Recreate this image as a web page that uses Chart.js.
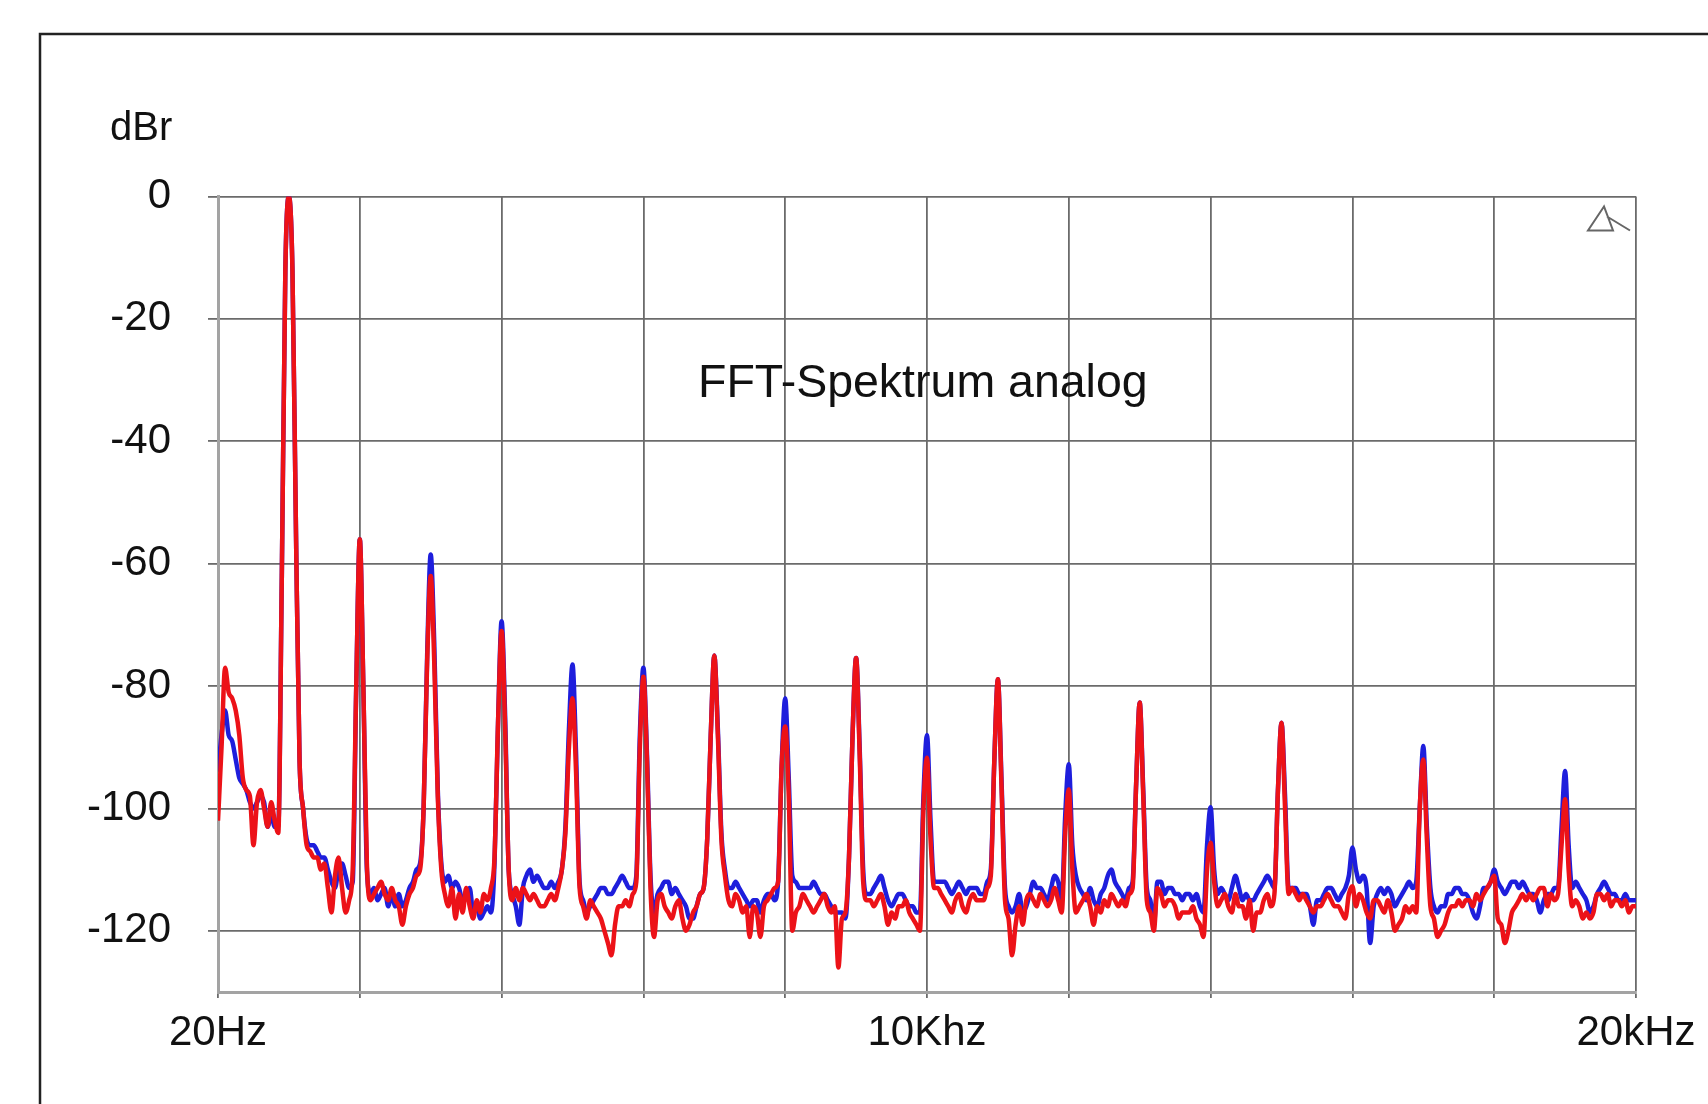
<!DOCTYPE html>
<html>
<head>
<meta charset="utf-8">
<title>FFT-Spektrum analog</title>
<script src="https://cdn.jsdelivr.net/npm/chart.js@4"></script>
<style>
  html, body { margin: 0; padding: 0; background: #fff; }
  #wrap { width: 1708px; height: 1104px; }
</style>
</head>
<body>
<div id="wrap"><canvas id="fft"></canvas></div>
<script>
// FFT bins are 50 Hz apart, one row per kHz (0 Hz ... 20 kHz)
const BIN_HZ = 50;

// red trace, dBr
const redLevels = [
  -102, -90, -77, -81, -82, -84, -88, -95, -97, -98, -106, -99, -97, -100, -103, -99, -102, -104, -62, -12,
  0, -12, -55, -92, -100, -106, -107, -108, -108, -110, -109, -113, -117, -111, -108, -113, -117, -115, -110, -80,
  -56, -80, -109, -115, -114, -113, -112, -114, -115, -113, -115, -116, -119, -116, -114, -113, -111, -110, -100, -76,
  -62, -76, -98, -110, -114, -116, -113, -118, -114, -117, -113, -116, -118, -115, -117, -114, -115, -113, -108, -86,
  -71, -87, -110, -115, -113, -115, -113, -114, -115, -114, -115, -116, -116, -115, -114, -115, -113, -110, -104, -90,
  -82, -94, -113, -116, -118, -115, -116, -117, -118, -120, -122, -124, -119, -116, -116, -115, -116, -114, -112, -90,
  -78.5, -92, -113, -121, -115, -114, -116, -117, -118, -116, -115, -118, -120, -119, -117, -116, -114, -113, -105, -88,
  -75, -88, -105, -111, -115, -116, -114, -115, -117, -116, -121, -116, -117, -121, -116, -115, -114, -113, -112, -93,
  -86.6, -98, -120, -117, -116, -114, -115, -116, -117, -116, -115, -114, -116, -117, -116, -126, -118, -117, -108, -88,
  -75.4, -91, -112, -115, -115, -116, -115, -114, -116, -119, -117, -118, -116, -116, -115, -117, -118, -119, -120, -100,
  -91.7, -105, -113, -113, -114, -115, -116, -117, -115, -114, -116, -117, -115, -114, -115, -115, -115, -113, -111, -92,
  -78.9, -96, -115, -118, -124, -119, -116, -119, -115, -114, -115, -116, -114, -115, -116, -115, -113, -115, -117, -104,
  -96.9, -110, -117, -116, -115, -114, -116, -119, -116, -117, -115, -116, -114, -115, -116, -115, -116, -114, -113, -96,
  -82.7, -98, -115, -117, -120, -113, -114, -116, -115, -115, -116, -118, -117, -117, -117, -116, -118, -119, -121, -110,
  -105.6, -112, -116, -115, -114, -116, -117, -114, -116, -116, -118, -115, -120, -117, -117, -115, -114, -116, -114, -97,
  -86, -100, -114, -113, -114, -115, -114, -115, -116, -117, -116, -116, -115, -114, -115, -116, -116, -117, -118, -114,
  -112.7, -116, -114, -115, -117, -118, -115, -115, -116, -117, -115, -117, -120, -119, -118, -116, -117, -116, -117, -100,
  -92, -105, -116, -118, -121, -120, -119, -117, -116, -116, -115, -116, -115, -115, -116, -114, -115, -114, -113, -112,
  -111, -118, -119, -122, -120, -117, -116, -115, -114, -115, -114, -115, -114, -113, -113, -116, -114, -115, -114, -106,
  -98.5, -110, -116, -115, -116, -118, -117, -118, -117, -114, -114, -115, -114, -116, -115, -115, -116, -115, -117, -116,
  -116
];

// blue trace, dBr
const blueLevels = [
  -94, -88, -84, -88, -89, -92, -95, -96, -97, -99, -100, -99, -98, -99, -103, -101, -103, -103, -62, -12,
  0, -12, -55, -92, -100, -105, -106, -106, -107, -108, -108, -110, -112, -113, -110, -109, -111, -113, -112, -80,
  -56, -80, -110, -114, -113, -115, -114, -113, -116, -114, -116, -114, -116, -115, -113, -112, -110, -109, -100, -75,
  -58.5, -73, -97, -109, -112, -111, -113, -112, -113, -115, -114, -113, -117, -116, -118, -117, -116, -117, -109, -86,
  -69.4, -85, -110, -114, -116, -119, -113, -111, -110, -112, -111, -112, -113, -113, -112, -113, -112, -110, -103, -87,
  -76.5, -91, -112, -115, -117, -116, -115, -114, -113, -113, -114, -114, -113, -112, -111, -112, -113, -113, -111, -88,
  -77, -91, -111, -117, -114, -113, -112, -112, -114, -113, -114, -115, -116, -118, -118, -116, -114, -113, -105, -88,
  -75, -87, -104, -110, -113, -113, -112, -113, -114, -115, -116, -115, -115, -117, -115, -114, -114, -115, -112, -93,
  -82, -95, -111, -112, -113, -113, -113, -113, -112, -113, -114, -114, -115, -116, -117, -117, -117, -118, -108, -88,
  -75.4, -90, -110, -114, -114, -113, -112, -111, -113, -115, -116, -115, -114, -114, -115, -116, -116, -117, -117, -98,
  -88, -102, -112, -112, -112, -112, -113, -114, -113, -112, -113, -114, -113, -113, -113, -114, -114, -112, -110, -92,
  -78.9, -95, -113, -116, -117, -116, -114, -117, -116, -114, -112, -113, -113, -114, -115, -113, -111, -112, -115, -101,
  -92.8, -106, -111, -113, -114, -115, -113, -115, -116, -114, -113, -111, -110, -112, -113, -114, -115, -113, -112, -96,
  -82.7, -97, -113, -115, -119, -112, -112, -114, -113, -113, -114, -114, -115, -114, -114, -115, -114, -116, -117, -106,
  -99.8, -110, -114, -113, -114, -115, -113, -111, -113, -115, -114, -115, -115, -114, -113, -112, -111, -112, -113, -97,
  -86, -98, -113, -113, -113, -114, -114, -114, -116, -119, -115, -115, -114, -113, -113, -114, -115, -114, -113, -111,
  -106.4, -110, -112, -111, -113, -122, -116, -114, -113, -114, -113, -114, -116, -115, -114, -113, -112, -113, -112, -100,
  -89.8, -103, -113, -116, -117, -116, -116, -114, -114, -113, -113, -114, -114, -115, -117, -118, -116, -113, -113, -112,
  -110, -112, -113, -114, -113, -112, -112, -113, -112, -113, -114, -114, -115, -117, -115, -114, -114, -113, -113, -103,
  -93.9, -106, -113, -112, -113, -114, -115, -117, -116, -114, -113, -112, -113, -114, -114, -115, -115, -114, -115, -115,
  -115
];

// axis ticks
const yTicks = [-120, -100, -80, -60, -40, -20, 0];
const xGridHz = [0, 2000, 4000, 6000, 8000, 10000, 12000, 14000, 16000, 18000, 20000];
const xTickLabels = { 0: '20Hz', 10000: '10Khz', 20000: '20kHz' };

const toPoints = (levels) => levels.map((v, i) => ({ x: i * BIN_HZ, y: v }));

// frame, unit label, caption and the little marker top right
const decorPlugin = {
    id: 'decor',
    afterDraw(chart) {
        const ctx = chart.ctx;
        const area = chart.chartArea;
        ctx.save();

        ctx.strokeStyle = '#222';
        ctx.lineWidth = 2.5;
        ctx.beginPath();
        ctx.moveTo(40, 1104);
        ctx.lineTo(40, 34);
        ctx.lineTo(1708, 34);
        ctx.stroke();

        ctx.fillStyle = '#111';
        ctx.textBaseline = 'alphabetic';
        ctx.textAlign = 'left';
        ctx.font = '40px "Liberation Sans", Arial, sans-serif';
        ctx.fillText('dBr', 110, 140);

        ctx.font = '46.5px "Liberation Sans", Arial, sans-serif';
        ctx.fillText('FFT-Spektrum analog', 698, 397);

        ctx.strokeStyle = '#666';
        ctx.lineWidth = 2;
        ctx.beginPath();
        ctx.moveTo(area.right - 32, area.top + 10);
        ctx.lineTo(area.right - 48, area.top + 34);
        ctx.lineTo(area.right - 23, area.top + 34);
        ctx.closePath();
        ctx.moveTo(area.right - 29, area.top + 20);
        ctx.lineTo(area.right - 6, area.top + 34);
        ctx.stroke();

        ctx.restore();
    }
};

const canvas = document.getElementById('fft');

new Chart(canvas, {
    type: 'line',
    data: {
        datasets: [
            {
                label: 'rot',
                data: toPoints(redLevels),
                borderColor: '#ec1218',
                borderWidth: 4.5,
                pointRadius: 0,
                cubicInterpolationMode: 'monotone',
                fill: false
            },
            {
                label: 'blau',
                data: toPoints(blueLevels),
                borderColor: '#1e1edc',
                borderWidth: 4.5,
                pointRadius: 0,
                cubicInterpolationMode: 'monotone',
                fill: false
            }
        ]
    },
    options: {
        responsive: true,
        maintainAspectRatio: false,
        animation: false,
        layout: { padding: { top: 196.5, right: 72, bottom: 0, left: 0 } },
        plugins: {
            legend: { display: false },
            tooltip: { enabled: false }
        },
        scales: {
            x: {
                type: 'linear',
                min: 0,
                max: 20000,
                afterBuildTicks: (axis) => { axis.ticks = xGridHz.map(v => ({ value: v })); },
                afterFit: (axis) => { axis.height = 112; },
                grid: { color: '#6b6b6b', lineWidth: 1.8, tickLength: 6 },
                border: { color: '#a3a3a3', width: 3 },
                ticks: {
                    autoSkip: false,
                    maxRotation: 0,
                    padding: 10,
                    color: '#111',
                    font: { size: 42, family: '"Liberation Sans", Arial, sans-serif' },
                    callback: (v) => xTickLabels[v] || ''
                }
            },
            y: {
                min: -130,
                max: 0,
                afterBuildTicks: (axis) => { axis.ticks = yTicks.map(v => ({ value: v })); },
                afterFit: (axis) => { axis.width = 218; },
                grid: { color: '#6b6b6b', lineWidth: 1.8, tickLength: 10 },
                border: { color: '#a3a3a3', width: 3 },
                ticks: {
                    padding: 37,
                    color: '#111',
                    font: { size: 42, family: '"Liberation Sans", Arial, sans-serif' }
                }
            }
        }
    },
    plugins: [decorPlugin]
});
</script>
</body>
</html>
